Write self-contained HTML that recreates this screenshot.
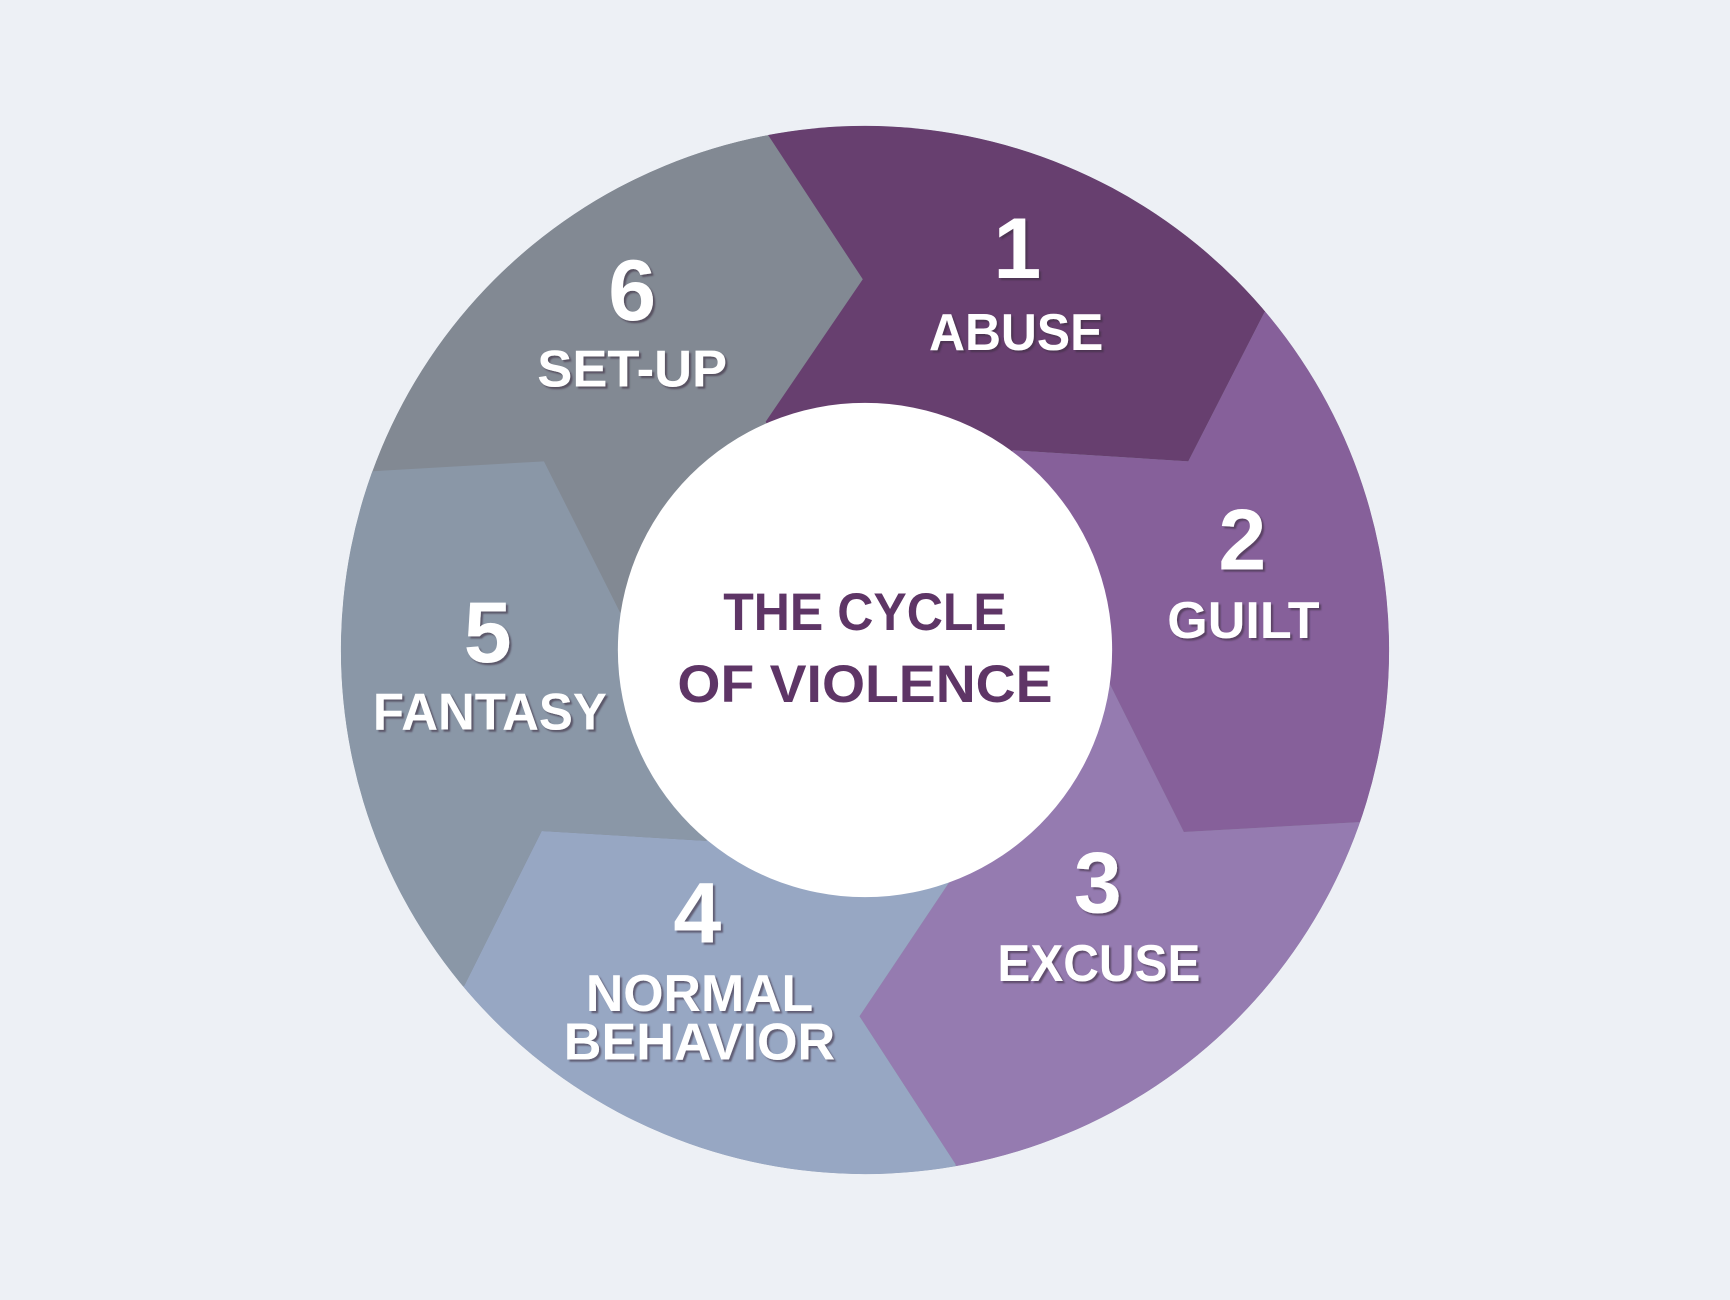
<!DOCTYPE html>
<html><head><meta charset="utf-8"><style>
html,body{margin:0;padding:0;background:#edf0f5;width:1730px;height:1300px;overflow:hidden;}
svg{display:block;position:absolute;left:0;top:0}
.n{font-family:"Liberation Sans",sans-serif;font-weight:bold;fill:#fff;text-anchor:middle;filter:url(#sh)}
.c{font-family:"Liberation Sans",sans-serif;font-weight:bold;fill:#5e3566;text-anchor:middle}
</style></head><body>
<svg width="1730" height="1300" viewBox="0 0 1568 1178" xmlns="http://www.w3.org/2000/svg">
<defs>
<clipPath id="cc"><circle cx="784" cy="589" r="475"/></clipPath>
<filter id="sh" x="-20%" y="-20%" width="140%" height="140%"><feDropShadow dx="2" dy="2" stdDeviation="0.8" flood-color="#3a2a40" flood-opacity="0.6"/></filter>
</defs>
<rect width="1568" height="1178" fill="#edf0f5"/>
<g clip-path="url(#cc)">
<circle cx="784" cy="589" r="475" fill="#828993"/>
<polygon fill="#673f6f" points="784,589 694,382 782,253 696,122 673,0 1436,0 1436,38 1146,283 1077,418 918,408"/>
<polygon fill="#86609a" points="784,589 918,408 1077,418 1146,283 1436,38 1568,38 1568,823 1456,823 1232,745 1073,754 1005,618"/>
<polygon fill="#957bb0" points="784,589 1005,618 1073,754 1232,745 1456,823 1568,823 1568,1178 888,1178 866,1055 779,921 860,800"/>
<polygon fill="#97a7c3" points="784,589 860,800 779,921 866,1055 888,1178 0,1178 0,1045 239,1045 421,893 491,753 640,762"/>
<polygon fill="#8a97a7" points="784,589 640,762 491,753 421,893 239,1045 0,1045 0,346 115,346 338,427 493,418 562,555"/>
</g>
<circle cx="784" cy="589" r="224" fill="#fff"/>
<text class="c" x="784" y="571" font-size="48" textLength="257" lengthAdjust="spacingAndGlyphs">THE CYCLE</text>
<text class="c" x="784" y="636" font-size="48" textLength="340" lengthAdjust="spacingAndGlyphs">OF VIOLENCE</text>
<g class="n">
<text x="922" y="252" font-size="78">1</text>
<text x="921" y="317" font-size="47" textLength="158" lengthAdjust="spacingAndGlyphs">ABUSE</text>
<text x="1126" y="516" font-size="78">2</text>
<text x="1127" y="578" font-size="47" textLength="138" lengthAdjust="spacingAndGlyphs">GUILT</text>
<text x="995" y="827" font-size="78">3</text>
<text x="996" y="889" font-size="47" textLength="184" lengthAdjust="spacingAndGlyphs">EXCUSE</text>
<text x="632" y="854" font-size="78">4</text>
<text x="634" y="916" font-size="47" textLength="206" lengthAdjust="spacingAndGlyphs">NORMAL</text>
<text x="634" y="960" font-size="47" textLength="246" lengthAdjust="spacingAndGlyphs">BEHAVIOR</text>
<text x="442" y="600" font-size="78">5</text>
<text x="444" y="661" font-size="47" textLength="212" lengthAdjust="spacingAndGlyphs">FANTASY</text>
<text x="573" y="290" font-size="78">6</text>
<text x="573" y="350" font-size="47" textLength="172" lengthAdjust="spacingAndGlyphs">SET-UP</text>
</g>
</svg>
</body></html>
